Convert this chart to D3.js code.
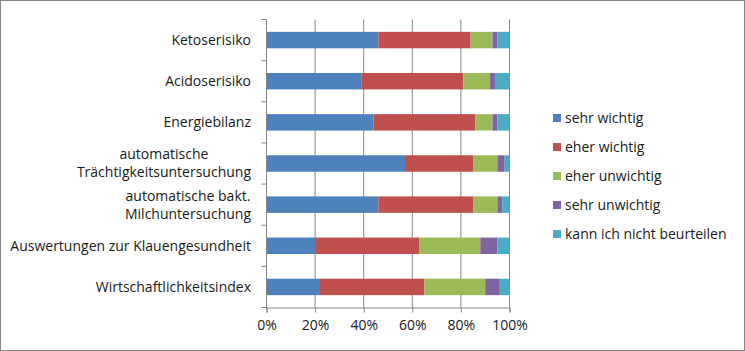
<!DOCTYPE html>
<html><head><meta charset="utf-8">
<script src="https://cdn.jsdelivr.net/npm/d3@7/dist/d3.min.js"></script>
<style>
body{margin:0;background:#fff;}
text{font-family:"Open Sans","Noto Sans",sans-serif;fill:#1a1a1a;}
</style></head>
<body><svg id="c" width="745" height="351"></svg>
<script>
const categories = ["Ketoserisiko","Acidoserisiko","Energiebilanz","automatische\nTrächtigkeitsuntersuchung","automatische bakt.\nMilchuntersuchung","Auswertungen zur Klauengesundheit","Wirtschaftlichkeitsindex"];
const seriesNames = ["sehr wichtig","eher wichtig","eher unwichtig","sehr unwichtig","kann ich nicht beurteilen"];
const sehrWichtig    = [46,39,44,57,46,20,22];
const eherWichtig    = [38,42,42,28,39,43,43];
const eherUnwichtig  = [9,11,7,10,10,25,25];
const sehrUnwichtig  = [2,2,2,3,2,7,6];
const kannNicht      = [5,6,5,2,3,5,4];
const xTicks = [0,20,40,60,80,100];
const colors = ["#4F81BD","#C0504D","#9BBB59","#8064A2","#4BACC6"];

const seriesVals = [sehrWichtig,eherWichtig,eherUnwichtig,sehrUnwichtig,kannNicht];
const rows = categories.map((c,i)=>{const o={cat:c};seriesNames.forEach((s,j)=>o[s]=seriesVals[j][i]);return o;});
const svg = d3.select("#c");
svg.append("rect").attr("x",0.5).attr("y",0.5).attr("width",744).attr("height",350).attr("fill","#fff").attr("stroke","#868686");

const FS="14px";
const L=266.5,R=509.5,T=19.5,B=307.5;
const x = d3.scaleLinear().domain([0,100]).range([L,R]);
const y = d3.scaleBand().domain(categories).range([T,B]).paddingInner(0.6).paddingOuter(0.3);
const yb = d3.scaleBand().domain(categories).range([T,B]);

svg.append("g").selectAll("line").data(xTicks.slice(1)).join("line")
  .attr("x1",d=>x(d)).attr("x2",d=>x(d)).attr("y1",T).attr("y2",B)
  .attr("stroke","#868686").attr("stroke-width",1);

const st = d3.stack().keys(seriesNames)(rows);
svg.append("g").selectAll("g").data(st).join("g").attr("fill",(d,i)=>colors[i])
  .selectAll("rect").data(d=>d).join("rect")
  .attr("x",d=>x(d[0])).attr("width",d=>x(d[1])-x(d[0]))
  .attr("y",d=>y(d.data.cat)).attr("height",y.bandwidth());

const ax = svg.append("g").attr("transform",`translate(0,${B})`).call(d3.axisBottom(x).tickValues(xTicks).tickFormat(d=>d+"%").tickSize(5));
ax.select(".domain").attr("stroke","#868686");
ax.selectAll(".tick line").attr("stroke","#868686");
ax.selectAll(".tick text").attr("dy","1.05em").style("font-size",FS).attr("fill","#1a1a1a").style("font-family",'"Open Sans","Noto Sans",sans-serif');

svg.append("line").attr("x1",L).attr("x2",L).attr("y1",T).attr("y2",B).attr("stroke","#868686");
const bounds = categories.map(c=>yb(c)).concat([B]);
svg.append("g").selectAll("line").data(bounds).join("line")
  .attr("x1",L-5).attr("x2",L).attr("y1",d=>d).attr("y2",d=>d).attr("stroke","#868686");

const lab = svg.append("g");
categories.forEach(c=>{
  const lines=c.split("\n");
  const cy=yb(c)+yb.bandwidth()/2;
  const lh=18;
  const g=lab.append("g");
  const ts=lines.map((t,k)=>g.append("text").text(t).style("font-size",FS)
     .attr("y",cy+(k-(lines.length-1)/2)*lh).attr("dy","0.35em"));
  const ws=ts.map(t=>t.node().getComputedTextLength());
  const mw=Math.max(...ws);
  const right=251, center=right-mw/2;
  ts.forEach(t=>t.attr("x",center).attr("text-anchor","middle"));
});

const lg = svg.append("g");
seriesNames.forEach((s,i)=>{
  const yy=118+i*29;
  lg.append("rect").attr("x",553).attr("y",yy-4).attr("width",8).attr("height",8).attr("fill",colors[i]);
  lg.append("text").attr("x",565).attr("y",yy).attr("dy","0.35em").style("font-size",FS).text(s);
});
</script></body></html>
